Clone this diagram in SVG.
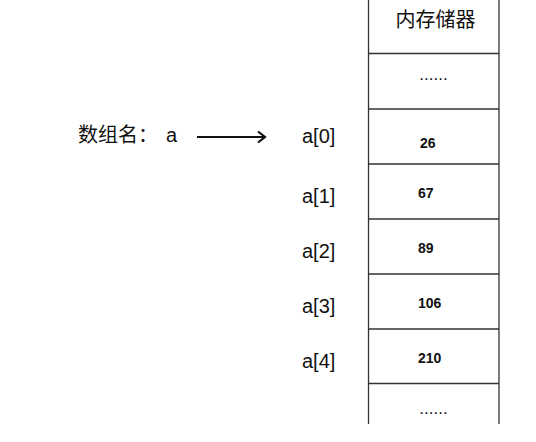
<svg xmlns="http://www.w3.org/2000/svg" width="536" height="442" viewBox="0 0 536 442">
<style>
.ln{stroke:#333;stroke-width:1.3;fill:none}
.lbl{font-family:"Liberation Sans","Noto Sans CJK SC",sans-serif;font-size:20px;fill:#111}
.val{font-family:"Liberation Sans",sans-serif;font-size:14px;font-weight:bold;fill:#111}
.dot{font-family:"Liberation Sans",sans-serif;font-size:17px;fill:#111}
</style>
<defs>
<marker id="ah" markerWidth="12" markerHeight="14" refX="9" refY="7" orient="auto" markerUnits="userSpaceOnUse">
<path d="M2,1.5 L9,7 L2,12.5" fill="none" stroke="#111" stroke-width="2.2"/>
</marker>
</defs>
<g id="memory">
<line class="ln" x1="368.5" y1="0" x2="368.5" y2="424"/>
<line class="ln" x1="499" y1="0" x2="499" y2="424"/>
<line class="ln" x1="368.5" y1="53.5" x2="499" y2="53.5"/>
<line class="ln" x1="368.5" y1="109" x2="499" y2="109"/>
<line class="ln" x1="368.5" y1="164" x2="499" y2="164"/>
<line class="ln" x1="368.5" y1="219" x2="499" y2="219"/>
<line class="ln" x1="368.5" y1="274" x2="499" y2="274"/>
<line class="ln" x1="368.5" y1="329" x2="499" y2="329"/>
<line class="ln" x1="368.5" y1="383.5" x2="499" y2="383.5"/>
<text class="lbl" x="435.5" y="27" text-anchor="middle" font-size="21">内存储器</text>
<text class="dot" x="433.5" y="80" text-anchor="middle">......</text>
<text class="val" x="420" y="148">26</text>
<text class="val" x="418" y="198">67</text>
<text class="val" x="418" y="253">89</text>
<text class="val" x="418" y="308">106</text>
<text class="val" x="418" y="363">210</text>
<text class="dot" x="433.5" y="414" text-anchor="middle">......</text>
</g>
<g id="array-name">
<text class="lbl" x="78" y="142">数组名：<tspan x="166">a</tspan></text>
</g>
<g id="indices">
<text class="lbl" x="302" y="143">a[0]</text>
<text class="lbl" x="302" y="203">a[1]</text>
<text class="lbl" x="302" y="258">a[2]</text>
<text class="lbl" x="302" y="313">a[3]</text>
<text class="lbl" x="302" y="368">a[4]</text>
</g>
<g id="connectors">
<line x1="197" y1="137" x2="265" y2="137" stroke="#111" stroke-width="2.2" marker-end="url(#ah)"/>
</g>
</svg>
